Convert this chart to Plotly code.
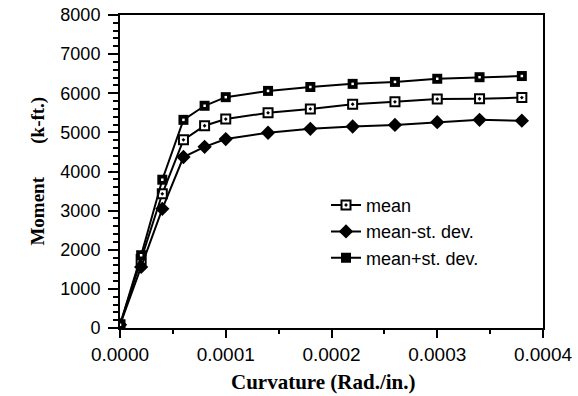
import plotly.graph_objects as go

curvature = [0, 0.00002, 0.00004, 0.00006, 0.00008, 0.0001, 0.00014, 0.00018,
             0.00022, 0.00026, 0.0003, 0.00034, 0.00038]
mean = [80, 1750, 3430, 4810, 5170, 5340, 5500, 5600, 5720, 5780, 5850, 5860, 5890]
mean_minus = [80, 1560, 3045, 4370, 4630, 4830, 4990, 5090, 5150, 5190, 5260, 5320, 5300]
mean_plus = [80, 1860, 3790, 5320, 5680, 5900, 6060, 6160, 6240, 6290, 6370, 6410, 6440]

names = ["mean", "mean-st. dev.", "mean+st. dev."]
x_ticks = [0, 0.0001, 0.0002, 0.0003, 0.0004]
x_tick_labels = ["0.0000", "0.0001", "0.0002", "0.0003", "0.0004"]
x_title = "Curvature (Rad./in.)"
y_title = "Moment" + "\u00a0" * 7 + "(k-ft.)"

fig = go.Figure()
fig.add_trace(go.Scatter(
    x=curvature, y=mean, name=names[0], mode="lines+markers",
    line=dict(color="black", width=2),
    marker=dict(symbol="square-dot", size=9, color="white",
                line=dict(color="black", width=2))))
fig.add_trace(go.Scatter(
    x=curvature, y=mean_minus, name=names[1], mode="lines+markers",
    line=dict(color="black", width=2),
    marker=dict(symbol="diamond", size=11, color="black",
                line=dict(color="black", width=0))))
fig.add_trace(go.Scatter(
    x=curvature, y=mean_plus, name=names[2], mode="lines+markers",
    line=dict(color="black", width=2),
    marker=dict(symbol="square", size=10, color="black",
                line=dict(color="black", width=0))))
fig.add_trace(go.Scatter(
    x=curvature, y=mean_plus, mode="markers", showlegend=False,
    hoverinfo="skip",
    marker=dict(symbol="square", size=2.5, color="white",
                line=dict(width=0))))

fig.update_layout(
    width=578, height=396,
    margin=dict(l=120, r=35, t=15, b=68, autoexpand=False),
    paper_bgcolor="white", plot_bgcolor="white",
    showlegend=True,
    legend=dict(x=0.487, y=0.451, xanchor="left", yanchor="top",
                bgcolor="rgba(0,0,0,0)", borderwidth=0,
                font=dict(family="Liberation Sans, Arial", size=18, color="black"),
                tracegroupgap=0),
    font=dict(family="Liberation Sans, Arial", color="black"),
    annotations=[
        dict(text=x_title, xref="paper", yref="paper", x=0.482, y=-0.1725,
             xanchor="center", yanchor="middle", showarrow=False,
             font=dict(family="Liberation Serif, Times New Roman", size=21,
                       color="black", weight="bold")),
        dict(text=y_title, xref="paper", yref="paper", x=-0.196, y=0.5,
             xanchor="center", yanchor="middle", showarrow=False, textangle=-90,
             font=dict(family="Liberation Serif, Times New Roman", size=19,
                       color="black", weight="bold")),
    ],
)
fig.update_xaxes(
    range=[0, 0.0004], tickvals=x_ticks, ticktext=x_tick_labels,
    ticks="outside", ticklen=8, tickwidth=2, tickcolor="black",
    minor=dict(dtick=0.00005, ticks="outside", ticklen=4, tickwidth=1.5, tickcolor="black"),
    showline=True, linecolor="black", linewidth=2, mirror=True,
    showgrid=False, zeroline=False, automargin=False,
    ticklabeloverflow="allow",
    tickfont=dict(family="Liberation Sans, Arial", size=19, color="black"),
)
fig.update_yaxes(
    range=[0, 8000], dtick=1000,
    ticks="outside", ticklen=10, tickwidth=2, tickcolor="black",
    minor=dict(dtick=200, ticks="outside", ticklen=5, tickwidth=1.5, tickcolor="black"),
    showline=True, linecolor="black", linewidth=2, mirror=True,
    showgrid=False, zeroline=False, automargin=False,
    ticklabeloverflow="allow", ticklabelstandoff=4,
    tickfont=dict(family="Liberation Sans, Arial", size=18, color="black"),
)

fig.write_html("out.html", config={"displayModeBar": False},
               post_script="document.body.style.margin='0';document.body.style.overflow='hidden';")
